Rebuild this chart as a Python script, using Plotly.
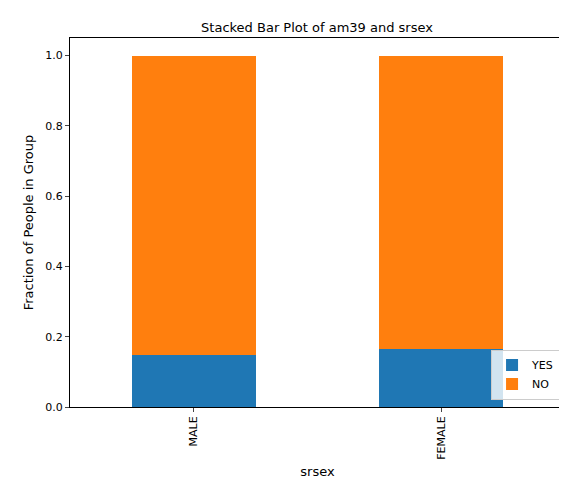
import plotly.graph_objects as go

categories = ["MALE", "FEMALE"]
yes_vals = [0.147, 0.166]
no_vals = [0.853, 0.834]

fig = go.Figure()
fig.add_bar(x=[0, 1], y=yes_vals, name="YES", marker_color="#1f77b4", width=0.5, marker_line_width=0)
fig.add_bar(x=[0, 1], y=no_vals, name="NO", marker_color="#ff7f0e", width=0.5, marker_line_width=0)

fig.update_layout(
    barmode="stack", width=567, height=493,
    margin=dict(l=62, r=10, t=30, b=94, autoexpand=False),
    plot_bgcolor="white", paper_bgcolor="white",
    font=dict(family="DejaVu Sans", size=11, color="black"),
    title=dict(text="Stacked Bar Plot of am39 and srsex", x=0.545, xanchor="center",
               y=1, yref="paper", yanchor="bottom", pad=dict(b=6), font=dict(size=13)),
    legend=dict(x=0.99, y=0.02, xanchor="right", yanchor="bottom", bgcolor="rgba(255,255,255,0.8)",
                bordercolor="#cccccc", borderwidth=1, traceorder="normal", font=dict(size=11)),
    bargap=0,
)
fig.update_xaxes(range=[-0.5, 1.5], tickvals=[0, 1], ticktext=categories, tickangle=-90, automargin=False,
                 showline=True, mirror=True, linecolor="black", ticks="outside", ticklen=4,
                 showgrid=False, title=dict(text="srsex", standoff=8), tickfont=dict(size=11))
fig.update_yaxes(range=[0, 1.05], tickvals=[0, 0.2, 0.4, 0.6, 0.8, 1.0], tickformat=".1f", automargin=False,
                 showline=True, mirror=True, linecolor="black", ticks="outside", ticklen=4,
                 showgrid=False, zeroline=False, title=dict(text="Fraction of People in Group", standoff=8),
                 tickfont=dict(size=11))
fig.write_html("out.html")
